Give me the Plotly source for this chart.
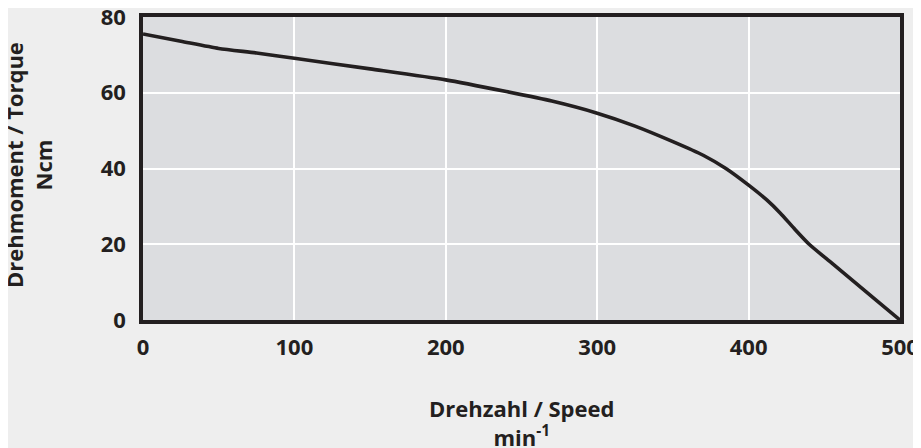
import plotly.graph_objects as go

speed = [0, 25, 50, 75, 100, 150, 200, 240, 270, 300, 325, 350, 370, 385,
         400, 412, 421, 430, 440, 455, 470, 485, 500]
torque = [75.5, 73.6, 71.7, 70.5, 69.1, 66.3, 63.4, 60.3, 57.8, 54.6, 51.2,
          47.1, 43.5, 40.0, 35.6, 31.7, 28.2, 24.2, 20.0, 15.0, 10.0, 5.0, 0.0]
x_ticks = [0, 100, 200, 300, 400, 500]
y_ticks = [0, 20, 40, 60, 80]

x_title = "Drehzahl / Speed<br>min<sup>-1</sup>"
y_title = "Drehmoment / Torque<br>Ncm"

ink = "#231f20"
font_fam = "Open Sans"

fig = go.Figure()
fig.add_trace(go.Scatter(x=speed, y=torque, mode="lines",
                         line=dict(color=ink, width=3.6, shape="spline", smoothing=0.6),
                         hoverinfo="skip", showlegend=False))

axis_common = dict(showgrid=True, gridcolor="white", gridwidth=2, zeroline=False,
                   showline=True, linecolor=ink, linewidth=3.5, mirror=True,
                   ticks="", automargin=False, ticklabeloverflow="allow",
                   tickfont=dict(family=font_fam, size=22, weight="bold", color=ink))

# page body has an 8px default margin; size the figure to compensate
fig.update_layout(
    width=913, height=440,
    margin=dict(l=135, r=21, t=9, b=128),
    paper_bgcolor="#eeeeee",
    plot_bgcolor="#dcdde0",
    font=dict(family=font_fam, color=ink),
    xaxis=dict(range=[0, 500], tickvals=x_ticks, ticklabelstandoff=5, **axis_common),
    yaxis=dict(range=[0, 80], tickvals=y_ticks, ticklabelstandoff=9, **axis_common),
    annotations=[
        dict(text=x_title, xref="paper", yref="paper", x=0.5, y=-0.337,
             xanchor="center", yanchor="middle", showarrow=False,
             font=dict(family=font_fam, size=22, weight="bold", color=ink)),
        dict(text=y_title, xref="paper", yref="paper", x=-0.152, y=0.5115,
             xanchor="center", yanchor="middle", showarrow=False, textangle=-90,
             font=dict(family=font_fam, size=22, weight="bold", color=ink)),
    ],
)

fig.write_html("out.html")
